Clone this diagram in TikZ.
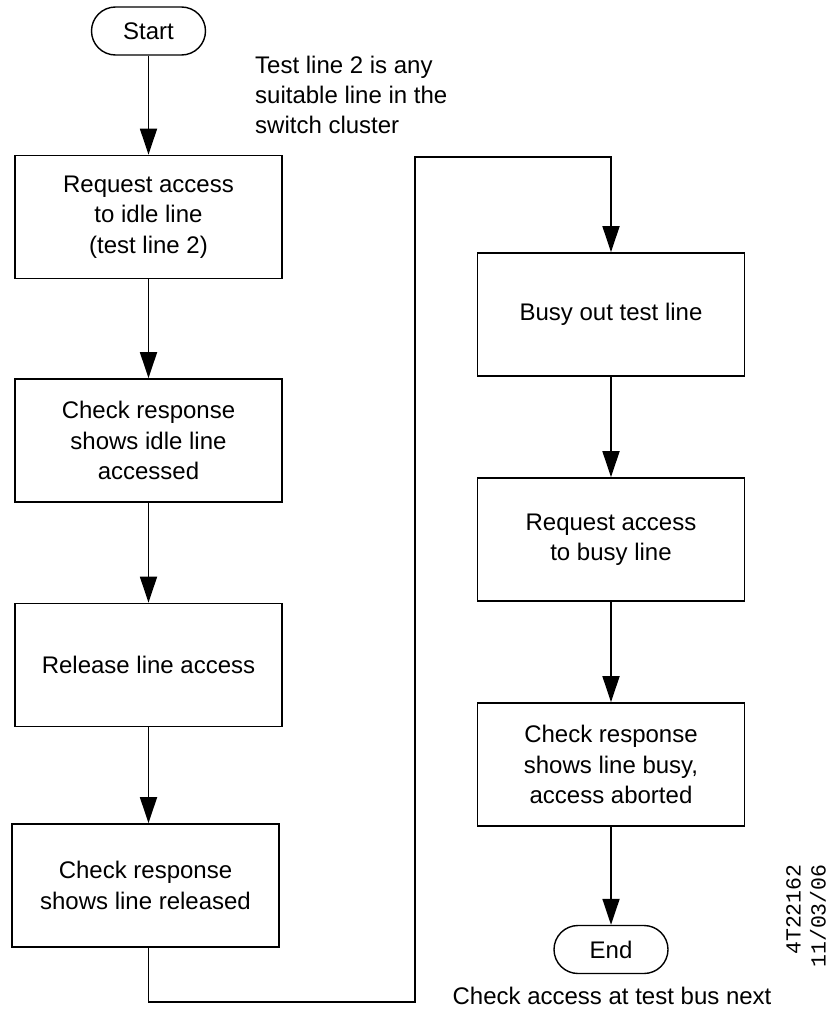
\documentclass[tikz,border=0pt]{standalone}
\usepackage{fontspec}
\setmainfont{Liberation Sans}
\newfontfamily\monofont{Liberation Mono}
\usetikzlibrary{arrows.meta,calc}
\tikzset{
  stepbox/.style={draw, line width=1.8pt, minimum width=267pt, minimum height=123pt, align=center, inner sep=0pt, font=\fontsize{24}{30.5}\selectfont},
  terminal/.style={draw, line width=1.4pt, rounded corners=24pt, minimum width=114pt, minimum height=48pt, inner sep=0pt, font=\fontsize{24}{30}\selectfont},
  flow/.style={line width=1.8pt, -{Triangle[length=26pt,width=17pt]}},
  note/.style={inner sep=0pt, font=\fontsize{24}{30}\selectfont}
}
\begin{document}
\begin{tikzpicture}[x=1pt,y=-1pt]
\useasboundingbox (0,0) rectangle (838,1009);
\node[terminal] (start) at (148.5,31) {Start};
\node[note, anchor=north west, align=left] (cmt) at (255,55.5) {Test line 2 is any\\suitable line in the\\switch cluster};
\node[stepbox] (b1) at (148.5,217) {Request access\\to idle line\\(test line 2)};
\node[stepbox] (b2) at (148.5,440.5) {Check response\\shows idle line\\accessed};
\node[stepbox] (b3) at (148.5,665) {Release line access};
\node[stepbox] (b4) at (145.5,885.5) {Check response\\shows line released};
\node[stepbox] (b5) at (611,314.5) {Busy out test line};
\node[stepbox] (b6) at (611,539.5) {Request access\\to busy line};
\node[stepbox] (b7) at (611,764.5) {Check response\\shows line busy,\\access aborted};
\node[terminal] (end) at (611,949.5) {End};
\node[note, anchor=base] (nxt) at (612,1004) {Check access at test bus next};
\node[inner sep=0pt, rotate=90, align=right, font=\monofont\fontsize{21.5}{25}\selectfont] (ref) at (806,916) {4T22162\\11/03/06};
\coordinate (l1) at (148.5,1002);
\coordinate (l2) at (415,1002);
\coordinate (l3) at (415,157);
\draw[flow] (start) -- (b1);
\draw[flow] (b1) -- (b2);
\draw[flow] (b2) -- (b3);
\draw[flow] (b3.south) -- (b3.south |- b4.north);
\draw[flow] (b3.south |- b4.south) -- (l1) -- (l2) -- (l3) -- (l3 -| b5.north) -- (b5.north);
\draw[flow] (b5) -- (b6);
\draw[flow] (b6) -- (b7);
\draw[flow] (b7) -- (end);
\end{tikzpicture}
\end{document}
